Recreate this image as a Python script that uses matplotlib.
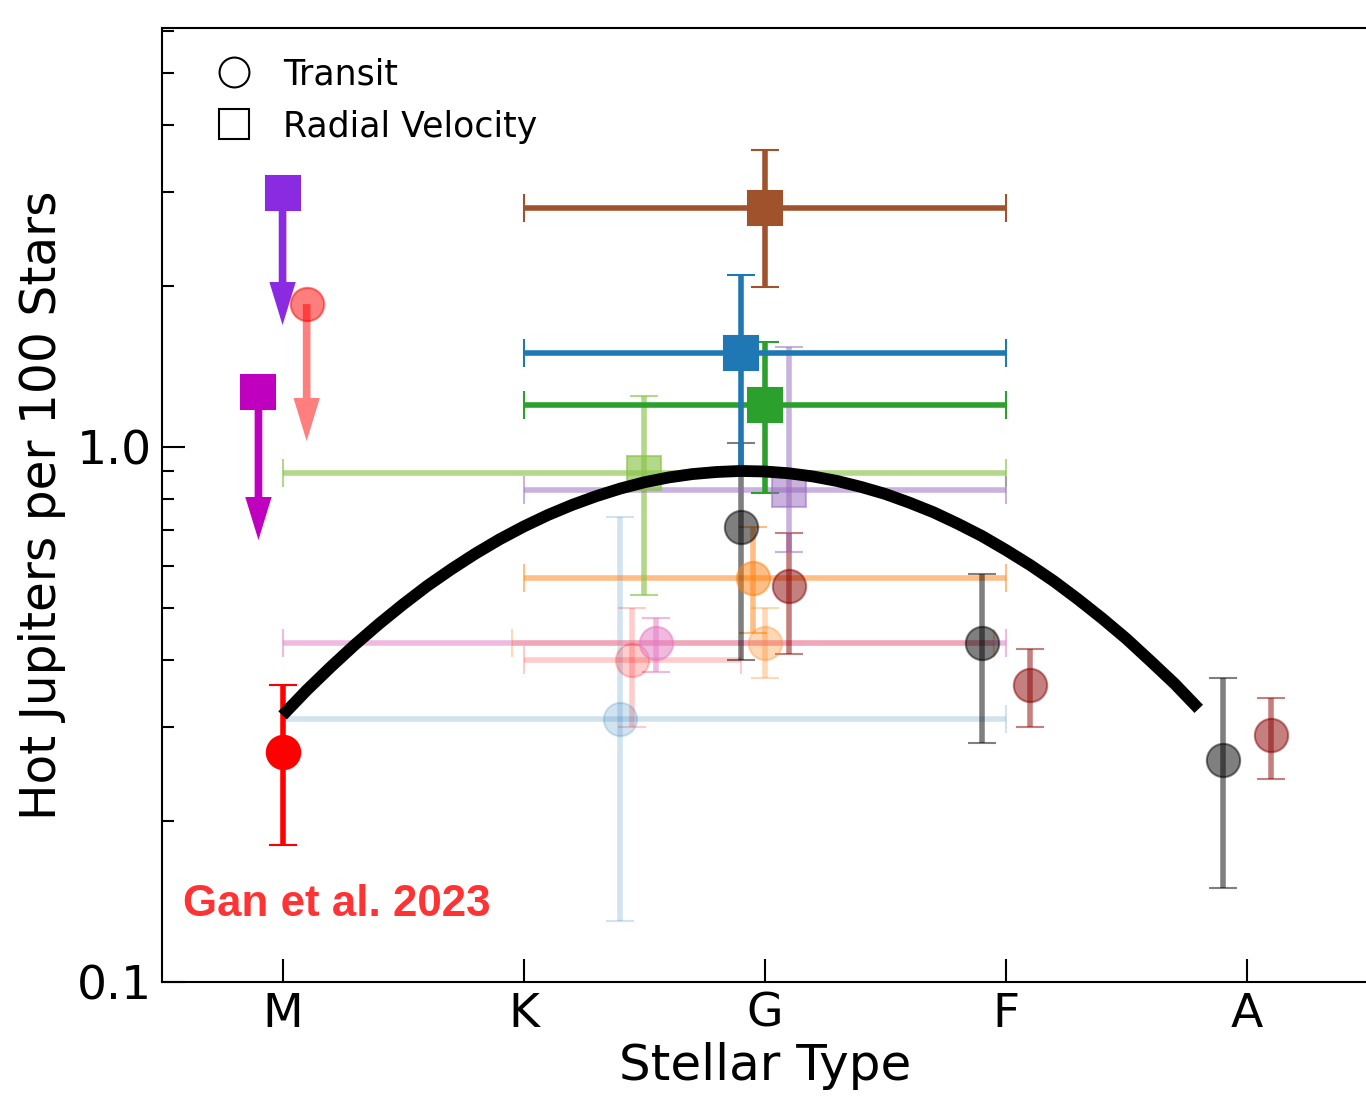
import numpy as np
import matplotlib
matplotlib.use('Agg')
import matplotlib.pyplot as plt
from matplotlib.lines import Line2D
from matplotlib.ticker import LogLocator, NullFormatter

# stellar type categories on the x axis
spectral_types = ['M', 'K', 'G', 'F', 'A']

# occurrence rates with error bars (hot Jupiters per 100 stars)
pt_x = [1.40, 1.45, 2.00, 1.55, 1.95, 2.10, 3.10, 4.10, 1.90, 2.90, 3.90,
        1.50, 2.10, 2.00, 1.90, 2.00, 0.00]
pt_y = [0.310, 0.400, 0.430, 0.430, 0.569, 0.549, 0.359, 0.289, 0.708, 0.430, 0.260,
        0.894, 0.830, 1.198, 1.500, 2.800, 0.269]
pt_ylo = [0.130, 0.300, 0.370, 0.380, 0.449, 0.410, 0.300, 0.240, 0.400, 0.280, 0.150,
          0.529, 0.636, 0.820, 0.906, 1.990, 0.180]
pt_yhi = [0.740, 0.500, 0.500, 0.479, 0.708, 0.691, 0.419, 0.340, 1.017, 0.579, 0.370,
          1.245, 1.537, 1.571, 2.100, 3.590, 0.359]
# horizontal extent (spectral type range); nan = no horizontal bar
pt_xlo = [1.40, 0.45, 1.05, 1.55, 0.95, np.nan, np.nan, np.nan, np.nan, np.nan, np.nan,
          1.50, 1.10, 1.00, 0.90, 1.00, np.nan]
pt_xhi = [1.60, 0.45, 0.95, 1.45, 1.05, np.nan, np.nan, np.nan, np.nan, np.nan, np.nan,
          1.50, 0.90, 1.00, 1.10, 1.00, np.nan]
pt_marker = ['o'] * 11 + ['s'] * 5 + ['o']
pt_color = ['tab:blue', 'red', 'tab:orange', 'tab:pink', 'tab:orange', 'darkred', 'darkred',
            'darkred', 'k', 'k', 'k', '#8BC34A', 'tab:purple', 'tab:green', 'tab:blue',
            'sienna', 'red']
pt_alpha = [0.2, 0.2, 0.3, 0.5, 0.5, 0.5, 0.5, 0.5, 0.5, 0.5, 0.5,
            0.65, 0.5, 1.0, 1.0, 1.0, 1.0]

# upper limits
lim_x = [0.0, 0.1, -0.1]
lim_y = [2.99, 1.85, 1.267]
lim_to = [1.69, 1.026, 0.670]
lim_marker = ['s', 'o', 's']
lim_color = ['blueviolet', 'red', 'm']
lim_alpha = [1.0, 0.5, 1.0]

# trend curve
curve_x = [0.0, 0.1, 0.2, 0.3, 0.4, 0.5, 0.6, 0.7, 0.8, 0.9, 1.0, 1.1, 1.2, 1.3,
           1.4, 1.5, 1.6, 1.7, 1.8, 1.9, 2.0, 2.1, 2.2, 2.3, 2.4, 2.5, 2.6, 2.7,
           2.8, 2.9, 3.0, 3.1, 3.2, 3.3, 3.4, 3.5, 3.6, 3.7, 3.8]
curve_y = [0.315, 0.351, 0.388, 0.427, 0.467, 0.508, 0.550, 0.591, 0.632, 0.672,
           0.710, 0.746, 0.779, 0.809, 0.836, 0.859, 0.877, 0.890, 0.898, 0.902,
           0.900, 0.893, 0.881, 0.864, 0.842, 0.817, 0.787, 0.755, 0.719, 0.682,
           0.642, 0.602, 0.561, 0.519, 0.478, 0.438, 0.398, 0.361, 0.324]

fig = plt.figure(figsize=(13.66, 10.97), dpi=100)
ax = fig.add_axes([162 / 1366, 115 / 1097, 1205.5 / 1366, 954 / 1097])

for i in range(len(pt_x)):
    if np.isnan(pt_xlo[i]):
        xerr = None
    else:
        xerr = [[pt_xlo[i]], [pt_xhi[i]]]
    yerr = [[pt_y[i] - pt_ylo[i]], [pt_yhi[i] - pt_y[i]]]
    ax.errorbar([pt_x[i]], [pt_y[i]], yerr=yerr, xerr=xerr, fmt=pt_marker[i],
                color=pt_color[i], mec=pt_color[i], alpha=pt_alpha[i], ms=24, mew=1.5,
                elinewidth=4, capsize=10, capthick=4)

for i in range(len(lim_x)):
    ax.annotate('', xy=(lim_x[i], lim_to[i]), xytext=(lim_x[i], lim_y[i]),
                arrowprops=dict(facecolor=lim_color[i], edgecolor='none', alpha=lim_alpha[i],
                                width=5.5, headwidth=19, headlength=31, shrink=0))
    ax.plot(lim_x[i], lim_y[i], lim_marker[i], color=lim_color[i], alpha=lim_alpha[i],
            ms=24, mew=1.5)

ax.plot(curve_x, curve_y, color='k', lw=8.5, zorder=10, solid_capstyle='butt',
        solid_joinstyle='round')

ax.text(0.0174, 0.069, 'Gan et al. 2023', transform=ax.transAxes, color='red', alpha=0.8,
        fontsize=31.6, fontweight='bold', family='Liberation Sans', va='baseline')

handles = [Line2D([], [], marker='o', ls='none', mfc='white', mec='k', ms=21.5, mew=1.5),
           Line2D([], [], marker='s', ls='none', mfc='white', mec='k', ms=21.5, mew=1.5)]
ax.legend(handles, ['Transit', 'Radial Velocity'], loc='upper left', frameon=False,
          fontsize=25, handlelength=1.0, handletextpad=0.9, labelspacing=0.52,
          borderpad=0, borderaxespad=0, bbox_to_anchor=(0.0456, 0.969))

ax.set_yscale('log')
ax.set_xlim(-0.5, 4.5)
ax.set_ylim(0.1, 6.07)
ax.set_xticks(range(len(spectral_types)))
ax.set_xticklabels(spectral_types)
ax.set_yticks([0.1, 1.0])
ax.set_yticklabels(['0.1', '1.0'])
ax.yaxis.set_minor_locator(LogLocator(base=10, subs=np.arange(2, 10)))
ax.yaxis.set_minor_formatter(NullFormatter())
ax.tick_params(which='major', direction='in', length=16.5, width=1.5, labelsize=34, pad=7)
ax.tick_params(which='minor', direction='in', length=8.5, width=1.5)
ax.tick_params(axis='x', which='minor', bottom=False)
ax.spines['right'].set_visible(False)
for s in ['left', 'bottom', 'top']:
    ax.spines[s].set_linewidth(1.5)

ax.set_xlabel('Stellar Type', fontsize=36)
ax.set_ylabel('Hot Jupiters per 100 Stars', fontsize=35)
ax.yaxis.set_label_coords(-0.080, 0.5)

fig.savefig('out.png', dpi=100)
